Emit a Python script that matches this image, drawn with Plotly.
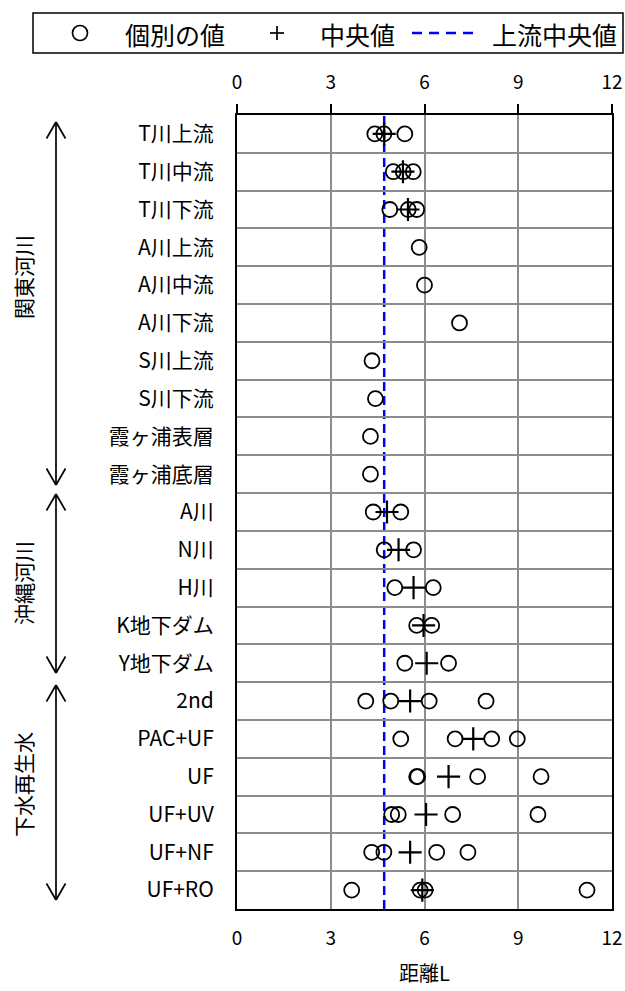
import plotly.graph_objects as go

# ---------------- data ----------------
categories = ["T川上流", "T川中流", "T川下流", "A川上流", "A川中流", "A川下流",
              "S川上流", "S川下流", "霞ヶ浦表層", "霞ヶ浦底層",
              "A川", "N川", "H川", "K地下ダム", "Y地下ダム",
              "2nd", "PAC+UF", "UF", "UF+UV", "UF+NF", "UF+RO"]

individual_values = [
    [4.41, 4.70, 5.37],
    [5.00, 5.32, 5.64],
    [4.89, 5.48, 5.75],
    [5.83],
    [6.00],
    [7.12],
    [4.32],
    [4.43],
    [4.27],
    [4.27],
    [4.36, 5.24],
    [4.71, 5.65],
    [5.05, 6.28],
    [5.75, 6.23],
    [5.37, 6.77],
    [4.12, 4.92, 6.15, 7.97],
    [5.24, 6.98, 8.15, 8.97],
    [5.75, 5.78, 7.70, 9.73],
    [4.95, 5.16, 6.90, 9.63],
    [4.31, 4.70, 6.39, 7.39],
    [3.67, 5.86, 6.02, 11.20],
]

median_categories = ["T川上流", "T川中流", "T川下流", "A川", "N川", "H川", "K地下ダム",
                     "Y地下ダム", "2nd", "PAC+UF", "UF", "UF+UV", "UF+NF", "UF+RO"]
median_values = [4.71, 5.31, 5.47, 4.80, 5.17, 5.65, 5.97,
                 6.07, 5.54, 7.56, 6.77, 6.05, 5.54, 5.93]

upstream_median = 4.71

group_names = ["関東河川", "沖縄河川", "下水再生水"]

x_tick_values = [0, 3, 6, 9, 12]
x_title = "距離L"
legend_labels = ["個別の値", "中央値", "上流中央値"]

# ---------------- layout helpers ----------------
W, H = 625, 991
ML, MR, MT, MB = 237, 13, 115, 82
PW, PH = W - ML - MR, H - MT - MB
FONT = "Noto Sans CJK JP"


def px(x):
    return (x - ML) / PW


def py(y):
    return (H - MB - y) / PH


ind_x, ind_y = [], []
for cat, vals in zip(categories, individual_values):
    for v in vals:
        ind_x.append(v)
        ind_y.append(cat)

fig = go.Figure()

fig.add_trace(go.Scatter(
    x=ind_x, y=ind_y, mode="markers", name=legend_labels[0],
    marker=dict(symbol="circle-open", size=15, color="black",
                line=dict(width=1.8, color="black")),
    showlegend=False, cliponaxis=False,
))

fig.add_trace(go.Scatter(
    x=median_values, y=median_categories, mode="markers", name=legend_labels[1],
    xaxis="x2", yaxis="y",
    marker=dict(symbol="cross-thin-open", size=16.5, color="black",
                line=dict(width=2.2, color="black")),
    showlegend=False, cliponaxis=False,
))

shapes = []
# upstream median line (data x)
shapes.append(dict(type="line", xref="x", yref="paper",
                   x0=upstream_median, x1=upstream_median, y0=0, y1=1,
                   line=dict(color="#0000FF", width=2.5, dash="9px,5px"),
                   layer="between"))

# group arrows
arrow_x = 56
arrow_spans = [(122, 485), (494, 673), (685, 900)]
for (ya, yb) in arrow_spans:
    shapes.append(dict(type="line", xref="paper", yref="paper",
                       x0=px(arrow_x), x1=px(arrow_x), y0=py(ya), y1=py(yb),
                       line=dict(color="black", width=1.7)))
    for tip, d in ((ya, 1), (yb, -1)):
        for s in (-1, 1):
            shapes.append(dict(type="line", xref="paper", yref="paper",
                               x0=px(arrow_x), y0=py(tip),
                               x1=px(arrow_x + s * 9.5), y1=py(tip + d * 16.5),
                               line=dict(color="black", width=1.7)))

# legend box
shapes.append(dict(type="rect", xref="paper", yref="paper",
                   x0=px(33), x1=px(623), y0=py(13), y1=py(53),
                   line=dict(color="black", width=1.5), fillcolor="white"))
# legend circle
shapes.append(dict(type="circle", xref="paper", yref="paper",
                   x0=px(80 - 7.5), x1=px(80 + 7.5), y0=py(33 - 7.5), y1=py(33 + 7.5),
                   line=dict(color="black", width=1.7)))
# legend plus
shapes.append(dict(type="line", xref="paper", yref="paper",
                   x0=px(270), x1=px(284), y0=py(33), y1=py(33),
                   line=dict(color="black", width=1.7)))
shapes.append(dict(type="line", xref="paper", yref="paper",
                   x0=px(277), x1=px(277), y0=py(26), y1=py(40),
                   line=dict(color="black", width=1.7)))
# legend dashed line
shapes.append(dict(type="line", xref="paper", yref="paper",
                   x0=px(412), x1=px(477), y0=py(33), y1=py(33),
                   line=dict(color="#0000FF", width=2.5, dash="10px,7px")))

annotations = []
for txt, cx in zip(legend_labels, [175, 357.5, 554.5]):
    annotations.append(dict(text=txt, xref="paper", yref="paper",
                            x=px(cx), y=py(34), xanchor="center", yanchor="middle",
                            showarrow=False, font=dict(size=25, color="black", family=FONT)))

for name, cy in zip(group_names, [277, 583, 785]):
    annotations.append(dict(text=name, xref="paper", yref="paper",
                            x=px(23), y=py(cy), xanchor="center", yanchor="middle",
                            textangle=-90, showarrow=False,
                            font=dict(size=21, color="black", family=FONT)))

annotations.append(dict(text=x_title, xref="paper", yref="paper",
                        x=0.5, y=py(989), xanchor="center", yanchor="bottom",
                        showarrow=False, font=dict(size=20, color="black", family=FONT)))

axis_common = dict(range=[0, 12], tickmode="array", tickvals=x_tick_values,
                   tickfont=dict(size=19, color="black", family=FONT), zeroline=False)

fig.update_layout(
    width=W, height=H,
    margin=dict(l=ML, r=MR, t=MT, b=MB, autoexpand=False),
    paper_bgcolor="white", plot_bgcolor="white",
    font=dict(family=FONT, color="black"),
    showlegend=False,
    xaxis=dict(**axis_common, showgrid=True, gridcolor="#8c8c8c", gridwidth=1.5,
               showline=True, linecolor="black", linewidth=2, mirror=True,
               ticks="", ticklabelstandoff=11),
    xaxis2=dict(**axis_common, overlaying="x", side="top", matches="x",
                showgrid=False, showline=False,
                ticks="outside", ticklen=10, tickwidth=1.5, tickcolor="black",
                ticklabelstandoff=7),
    yaxis=dict(type="category", categoryorder="array", categoryarray=categories,
               range=[len(categories) - 0.5, -0.5], autorange=False,
               tickson="boundaries",
               showgrid=True, gridcolor="#8c8c8c", gridwidth=1.5,
               showline=True, linecolor="black", linewidth=2, mirror=True,
               ticks="", ticklabelstandoff=17,
               tickfont=dict(size=21, color="black", family=FONT)),
    shapes=shapes,
    annotations=annotations,
)

fig.write_html("out.html", config={"displayModeBar": False},
               post_script="document.body.style.margin='0px';document.body.style.overflow='hidden';")
